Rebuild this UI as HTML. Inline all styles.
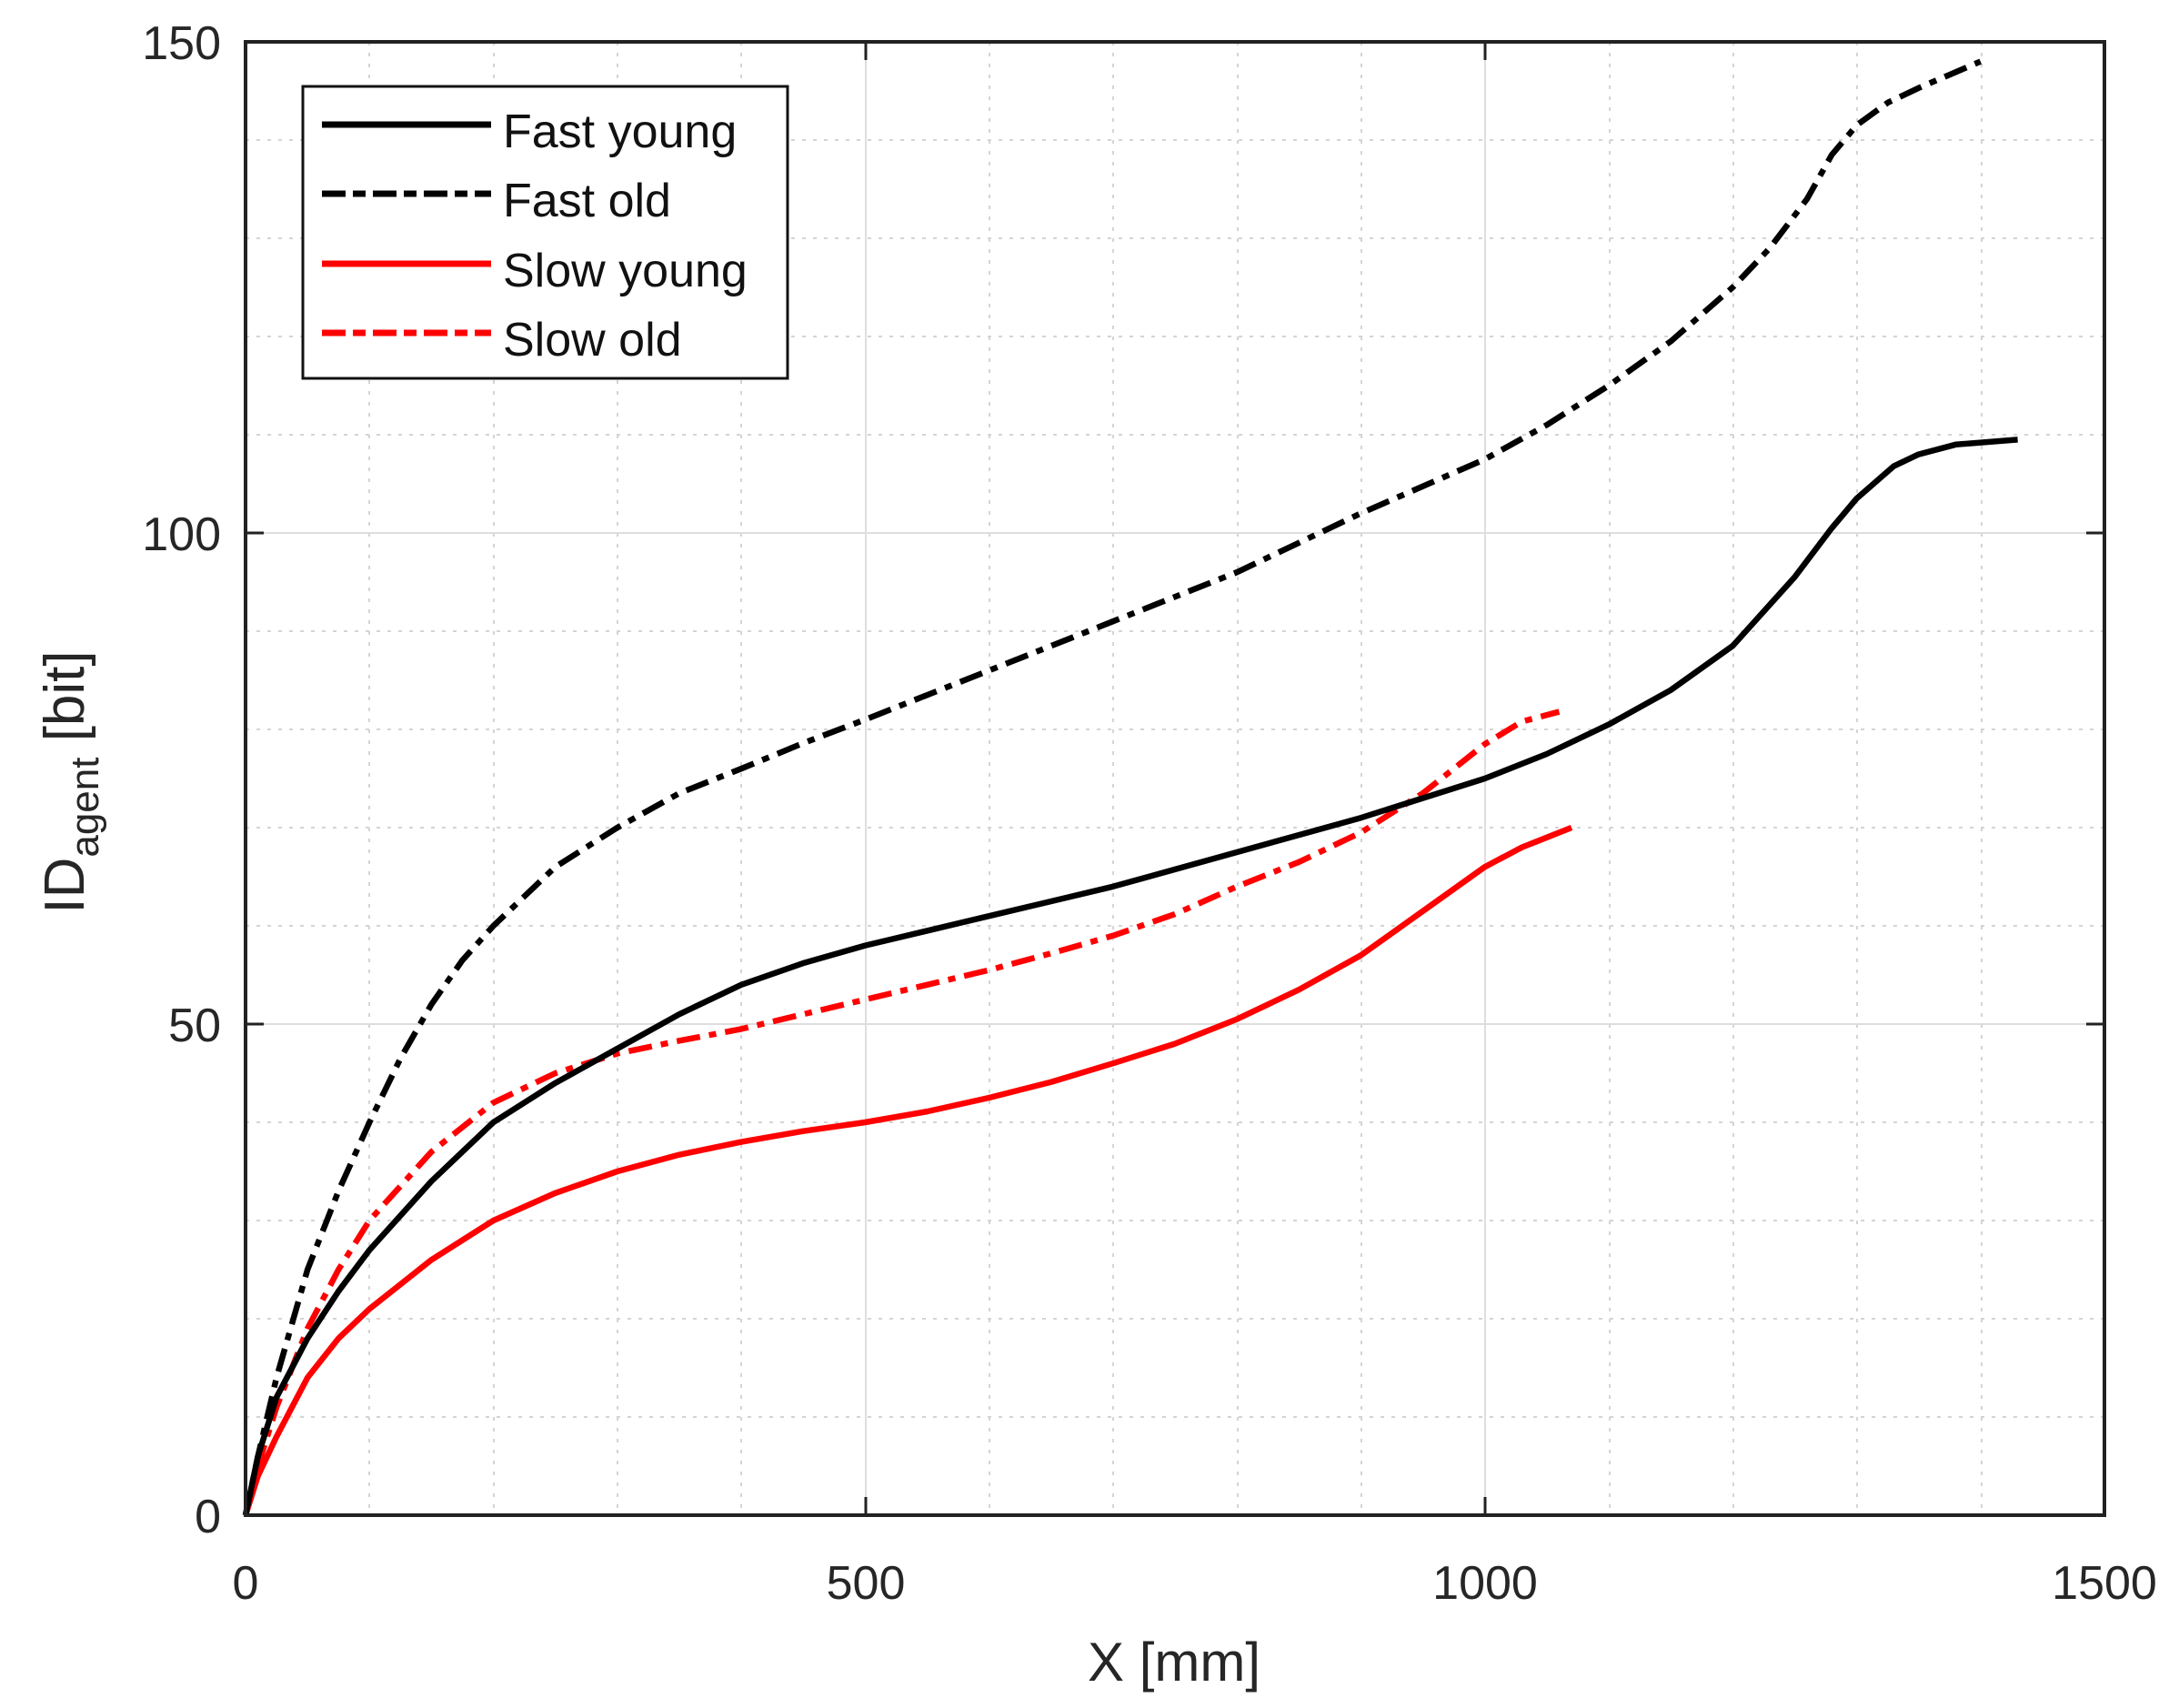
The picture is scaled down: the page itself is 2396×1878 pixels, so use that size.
<!DOCTYPE html>
<html><head><meta charset="utf-8"><style>
html,body{margin:0;padding:0;background:#fff;}
svg{display:block;font-family:"Liberation Sans",Arial,sans-serif;}
</style></head><body>
<svg width="2396" height="1878" viewBox="0 0 2396 1878" xmlns="http://www.w3.org/2000/svg">
<rect width="2396" height="1878" fill="#fff"/>
<g stroke="#d4d4d4" stroke-width="2" stroke-dasharray="4,8">
<line x1="406" y1="46" x2="406" y2="1666"/><line x1="543" y1="46" x2="543" y2="1666"/><line x1="679" y1="46" x2="679" y2="1666"/><line x1="815" y1="46" x2="815" y2="1666"/>
<line x1="1088" y1="46" x2="1088" y2="1666"/><line x1="1224" y1="46" x2="1224" y2="1666"/><line x1="1361" y1="46" x2="1361" y2="1666"/><line x1="1497" y1="46" x2="1497" y2="1666"/>
<line x1="1770" y1="46" x2="1770" y2="1666"/><line x1="1906" y1="46" x2="1906" y2="1666"/><line x1="2042" y1="46" x2="2042" y2="1666"/><line x1="2179" y1="46" x2="2179" y2="1666"/>
<line x1="270" y1="1558" x2="2314" y2="1558"/><line x1="270" y1="1450" x2="2314" y2="1450"/><line x1="270" y1="1342" x2="2314" y2="1342"/><line x1="270" y1="1234" x2="2314" y2="1234"/>
<line x1="270" y1="1018" x2="2314" y2="1018"/><line x1="270" y1="910" x2="2314" y2="910"/><line x1="270" y1="802" x2="2314" y2="802"/><line x1="270" y1="694" x2="2314" y2="694"/>
<line x1="270" y1="478" x2="2314" y2="478"/><line x1="270" y1="370" x2="2314" y2="370"/><line x1="270" y1="262" x2="2314" y2="262"/><line x1="270" y1="154" x2="2314" y2="154"/>
</g>
<g stroke="#dedede" stroke-width="2">
<line x1="952" y1="46" x2="952" y2="1666"/><line x1="1633" y1="46" x2="1633" y2="1666"/>
<line x1="270" y1="1126" x2="2314" y2="1126"/><line x1="270" y1="586" x2="2314" y2="586"/>
</g>
<g stroke="#222" stroke-width="3">
<line x1="952" y1="1666" x2="952" y2="1646"/><line x1="1633" y1="1666" x2="1633" y2="1646"/>
<line x1="952" y1="46" x2="952" y2="66"/><line x1="1633" y1="46" x2="1633" y2="66"/>
<line x1="270" y1="1126" x2="290" y2="1126"/><line x1="270" y1="586" x2="290" y2="586"/>
<line x1="2314" y1="1126" x2="2294" y2="1126"/><line x1="2314" y1="586" x2="2294" y2="586"/>
</g>
<g transform="translate(270,1666) scale(1.36267,-10.8)" fill="none" stroke-width="6.5" stroke-linejoin="round" stroke-linecap="butt">
<polyline vector-effect="non-scaling-stroke" stroke="#ff0000" points="0,0 10,4 25,8 50,14 75,18 100,21 150,26 200,30 250,32.8 300,35 350,36.7 400,38 450,39.1 500,40 550,41.1 600,42.5 650,44.1 700,46 750,48 800,50.5 850,53.5 900,57 950,61.5 1000,66 1030,68 1050,69 1070,70"/>
<polyline vector-effect="non-scaling-stroke" stroke="#ff0000" stroke-dasharray="26,10,8,10" points="0,0 10,5 25,11 50,19 75,25 100,30 150,37 200,42 250,45 300,47 350,48.3 400,49.5 450,51 500,52.5 550,54 600,55.5 650,57.2 700,59 750,61.2 800,64 850,66.5 900,69.5 950,73.5 980,76.5 1000,78.5 1030,80.8 1060,81.8"/>
<polyline vector-effect="non-scaling-stroke" stroke="#000" points="0,0 10,6 25,12 50,18 75,22.8 100,27 150,34 200,40 250,44 300,47.5 350,51 400,54 450,56.2 500,58 600,61 700,64 800,67.5 900,71 1000,75 1050,77.5 1100,80.5 1150,84 1200,88.5 1250,95.5 1280,100.5 1300,103.5 1330,106.8 1350,108 1380,109 1430,109.5"/>
<polyline vector-effect="non-scaling-stroke" stroke="#000" stroke-dasharray="26,10,8,10" points="0,0 10,6 25,14 50,25 75,33 100,40 125,46.5 150,52 175,56.5 200,60 250,66 300,70 350,73.5 400,76 450,78.6 500,81 600,86 700,91 800,96 900,102 1000,107.5 1050,111 1100,115 1150,119.5 1200,125 1230,129 1260,134 1280,138.5 1300,141.5 1325,143.8 1350,145.3 1400,148"/>
</g>
<rect x="270" y="46" width="2044" height="1620" fill="none" stroke="#222" stroke-width="4"/>
<g fill="#262626" font-size="52">
<text x="243" y="1685" text-anchor="end">0</text>
<text x="243" y="1145" text-anchor="end">50</text>
<text x="243" y="605" text-anchor="end">100</text>
<text x="243" y="65" text-anchor="end">150</text>
<text x="270" y="1758" text-anchor="middle">0</text>
<text x="952" y="1758" text-anchor="middle">500</text>
<text x="1633" y="1758" text-anchor="middle">1000</text>
<text x="2314" y="1758" text-anchor="middle">1500</text>
</g>
<text x="1291" y="1848" text-anchor="middle" font-size="60" fill="#262626">X [mm]</text>
<text transform="translate(92,860) rotate(-90)" text-anchor="middle" font-size="62" fill="#262626">ID<tspan font-size="44" dy="16">agent</tspan><tspan dy="-16"> [bit]</tspan></text>
<rect x="333" y="95" width="533" height="321" fill="#fff" stroke="#111" stroke-width="3"/>
<g stroke-width="7">
<line x1="354" y1="137" x2="540" y2="137" stroke="#000"/>
<line x1="354" y1="213" x2="540" y2="213" stroke="#000" stroke-dasharray="26,8,14,8"/>
<line x1="354" y1="290" x2="540" y2="290" stroke="#ff0000"/>
<line x1="354" y1="366" x2="540" y2="366" stroke="#ff0000" stroke-dasharray="26,8,14,8"/>
</g>
<g font-size="52" fill="#111">
<text x="553" y="162">Fast young</text>
<text x="553" y="238">Fast old</text>
<text x="553" y="315">Slow young</text>
<text x="553" y="391">Slow old</text>
</g>
</svg>
</body></html>
